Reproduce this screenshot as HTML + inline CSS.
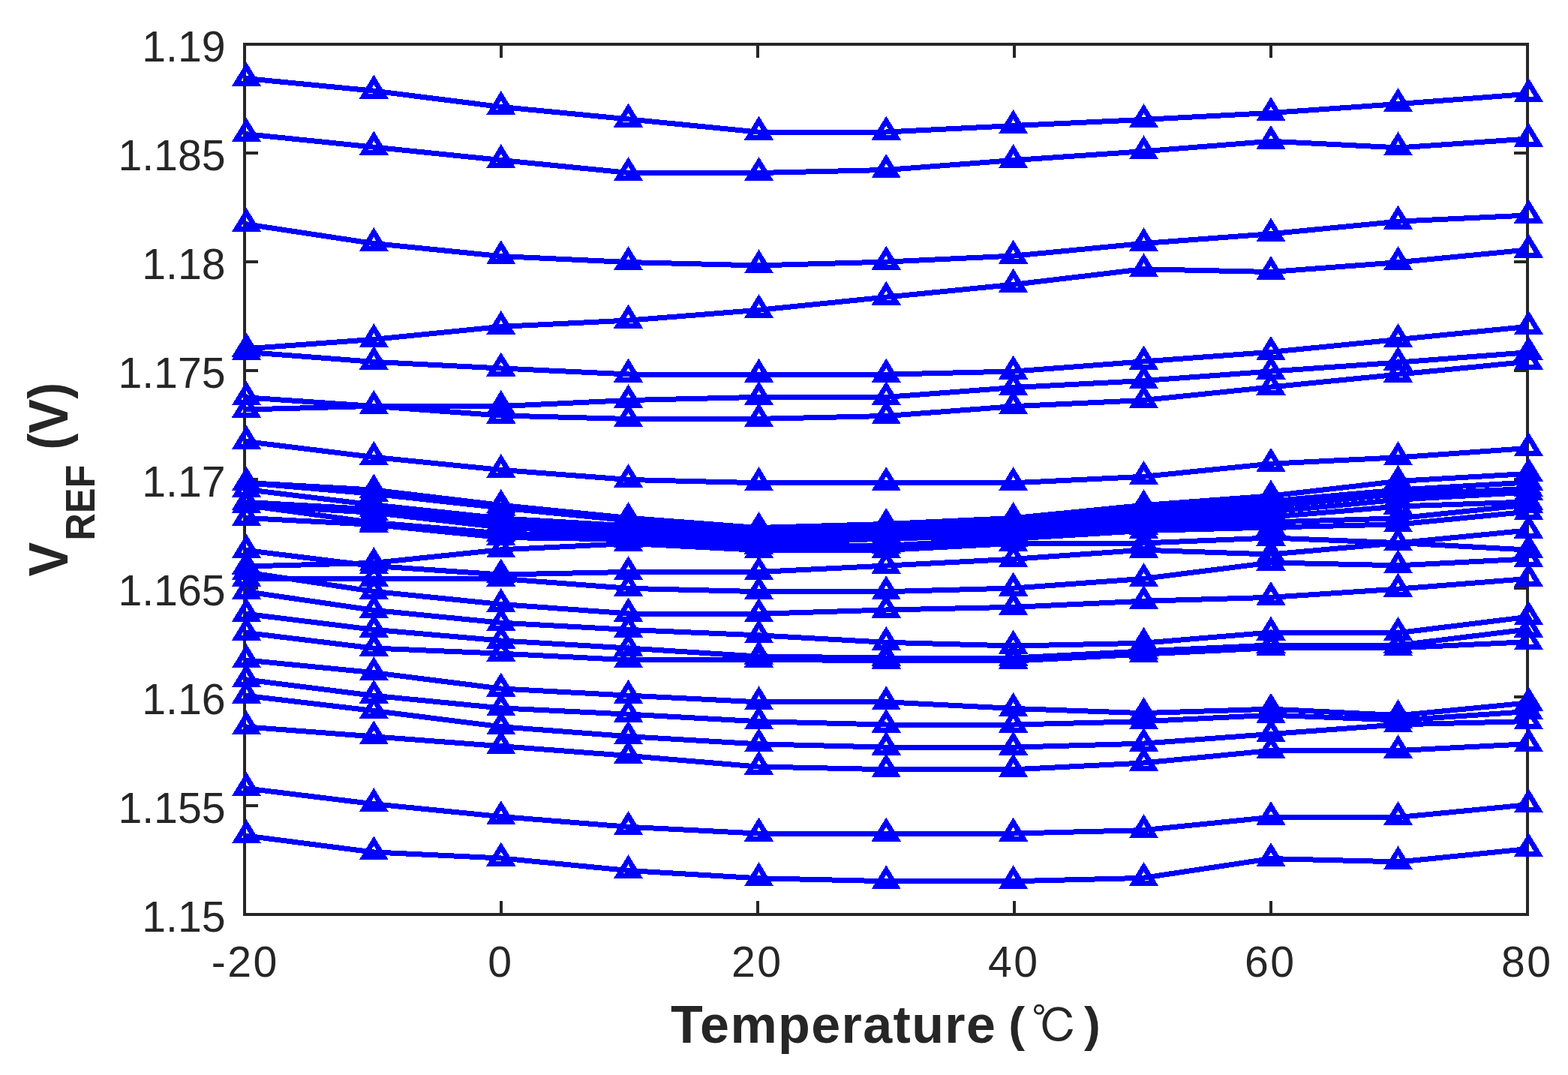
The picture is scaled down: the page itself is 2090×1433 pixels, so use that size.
<!DOCTYPE html>
<html lang="en"><head><meta charset="utf-8"><title>VREF vs Temperature</title>
<style>html,body{margin:0;padding:0;background:#fff}body{width:2090px;height:1433px;overflow:hidden}svg{display:block}text{font-family:"Liberation Sans","Noto Sans CJK SC",sans-serif;fill:#262626}.tk{font-size:57.2px}.lb{font-size:72px;font-weight:bold}.deg{font-family:"Liberation Sans","IPAGothic",sans-serif;font-weight:normal;font-size:62px}</style></head><body>
<svg width="2090" height="1433" viewBox="0 0 2090 1433">
<rect width="2090" height="1433" fill="#fff"/>
<g stroke="#262626" stroke-width="4" fill="none" shape-rendering="crispEdges">
<rect x="326" y="59" width="1710" height="1160"/>
<path d="M668 1219 v-18 M668 59 v18 M1010 1219 v-18 M1010 59 v18 M1352 1219 v-18 M1352 59 v18 M1694 1219 v-18 M1694 59 v18 M326 1074 h18 M2036 1074 h-18 M326 929 h18 M2036 929 h-18 M326 784 h18 M2036 784 h-18 M326 639 h18 M2036 639 h-18 M326 494 h18 M2036 494 h-18 M326 349 h18 M2036 349 h-18 M326 204 h18 M2036 204 h-18"/>
</g>
<g class="tk" text-anchor="middle" style="letter-spacing:2.5px">
<text x="326.8" y="1301.5">-20</text>
<text x="667.3" y="1301.5">0</text>
<text x="1009.3" y="1301.5">20</text>
<text x="1351.3" y="1301.5">40</text>
<text x="1693.3" y="1301.5">60</text>
<text x="2035.3" y="1301.5">80</text>
</g>
<g class="tk" text-anchor="end">
<text x="300.5" y="1242.3">1.15</text>
<text x="300.5" y="1097.3">1.155</text>
<text x="300.5" y="952.3">1.16</text>
<text x="300.5" y="807.3">1.165</text>
<text x="300.5" y="662.3">1.17</text>
<text x="300.5" y="517.3">1.175</text>
<text x="300.5" y="372.3">1.18</text>
<text x="300.5" y="227.3">1.185</text>
<text x="300.5" y="82.3">1.19</text>
</g>
<text class="lb" y="1389.8" style="font-size:70px"><tspan x="894.1" style="letter-spacing:1.4px">Temperature</tspan><tspan x="1326" y="1388.3" font-size="65.5"> (</tspan><tspan class="deg" x="1374.8" y="1389.8">℃</tspan><tspan x="1444.9" y="1388.3" font-size="65.5">)</tspan></text>
<text class="lb" transform="translate(89.7 768.4) scale(1.04 0.954) rotate(-90)">V<tspan dx="2" dy="34.8" font-size="53">REF</tspan><tspan dx="1.9" dy="-35.8" font-size="68.8"> (</tspan><tspan dy="1">V</tspan><tspan dy="-1" font-size="68.8">)</tspan></text>
<g fill="none" stroke="#00f" stroke-width="7" stroke-linejoin="round" shape-rendering="crispEdges">
<polyline points="326.0,104.4 497.0,121.0 668.0,142.5 839.0,159.0 1010.0,176.0 1181.0,176.0 1352.0,167.5 1523.0,159.5 1694.0,150.5 1865.0,138.5 2036.0,125.4"/>
<polyline points="326.0,178.5 497.0,196.0 668.0,213.5 839.0,230.5 1010.0,230.5 1181.0,226.5 1352.0,213.5 1523.0,201.8 1694.0,188.3 1865.0,196.9 2036.0,185.1"/>
<polyline points="326.0,298.5 497.0,324.4 668.0,341.6 839.0,349.6 1010.0,353.9 1181.0,349.1 1352.0,341.0 1523.0,324.6 1694.0,311.7 1865.0,295.1 2036.0,287.0"/>
<polyline points="326.0,465.0 497.0,452.5 668.0,435.4 839.0,427.0 1010.0,413.4 1181.0,396.1 1352.0,379.2 1523.0,358.8 1694.0,362.5 1865.0,349.6 2036.0,333.0"/>
<polyline points="326.0,469.2 497.0,482.3 668.0,491.0 839.0,499.0 1010.0,499.2 1181.0,499.2 1352.0,495.0 1523.0,482.0 1694.0,469.3 1865.0,452.4 2036.0,435.4"/>
<polyline points="326.0,529.7 497.0,541.4 668.0,541.5 839.0,533.5 1010.0,529.4 1181.0,529.4 1352.0,516.5 1523.0,507.6 1694.0,495.0 1865.0,483.0 2036.0,469.8"/>
<polyline points="326.0,546.0 497.0,541.4 668.0,554.0 839.0,558.5 1010.0,558.4 1181.0,554.5 1352.0,541.6 1523.0,533.6 1694.0,516.0 1865.0,499.0 2036.0,482.2"/>
<polyline points="326.0,588.3 497.0,609.3 668.0,626.4 839.0,639.5 1010.0,643.7 1181.0,643.7 1352.0,643.7 1523.0,635.4 1694.0,618.2 1865.0,609.7 2036.0,597.5"/>
<polyline points="326.0,643.4 497.0,653.0 668.0,673.4 839.0,690.5 1010.0,703.5 1181.0,698.5 1352.0,690.5 1523.0,673.6 1694.0,661.0 1865.0,641.3 2036.0,631.5"/>
<polyline points="326.0,643.4 497.0,658.2 668.0,677.0 839.0,694.0 1010.0,707.0 1181.0,703.0 1352.0,695.0 1523.0,679.0 1694.0,668.0 1865.0,653.0 2036.0,643.0"/>
<polyline points="326.0,652.3 497.0,672.9 668.0,691.0 839.0,701.0 1010.0,712.0 1181.0,708.0 1352.0,702.0 1523.0,686.0 1694.0,675.0 1865.0,658.6 2036.0,651.7"/>
<polyline points="326.0,669.3 497.0,678.9 668.0,697.0 839.0,707.0 1010.0,717.0 1181.0,712.0 1352.0,707.0 1523.0,692.0 1694.0,682.0 1865.0,666.0 2036.0,656.3"/>
<polyline points="326.0,673.3 497.0,683.3 668.0,703.0 839.0,712.0 1010.0,722.0 1181.0,715.0 1352.0,711.0 1523.0,697.0 1694.0,689.0 1865.0,675.0 2036.0,669.0"/>
<polyline points="326.0,673.3 497.0,696.5 668.0,711.0 839.0,716.0 1010.0,725.0 1181.0,718.0 1352.0,714.0 1523.0,702.0 1694.0,696.0 1865.0,690.8 2036.0,673.0"/>
<polyline points="326.0,690.4 497.0,699.3 668.0,716.5 839.0,719.0 1010.0,728.0 1181.0,727.3 1352.0,718.0 1523.0,707.5 1694.0,703.0 1865.0,698.9 2036.0,682.2"/>
<polyline points="326.0,755.0 497.0,750.5 668.0,732.8 839.0,724.5 1010.0,733.3 1181.0,733.3 1352.0,724.3 1523.0,724.0 1694.0,717.0 1865.0,723.7 2036.0,707.0"/>
<polyline points="326.0,733.3 497.0,754.4 668.0,766.0 839.0,762.4 1010.0,762.5 1181.0,754.1 1352.0,745.2 1523.0,733.2 1694.0,739.0 1865.0,723.7 2036.0,733.0"/>
<polyline points="326.0,771.2 497.0,771.2 668.0,771.4 839.0,784.4 1010.0,788.6 1181.0,788.7 1352.0,784.0 1523.0,771.5 1694.0,750.0 1865.0,753.8 2036.0,745.0"/>
<polyline points="326.0,762.5 497.0,788.3 668.0,805.5 839.0,818.0 1010.0,818.3 1181.0,813.0 1352.0,809.3 1523.0,801.3 1694.0,796.3 1865.0,785.0 2036.0,771.5"/>
<polyline points="326.0,788.3 497.0,813.3 668.0,830.2 839.0,839.5 1010.0,846.8 1181.0,856.3 1352.0,861.0 1523.0,857.3 1694.0,843.0 1865.0,843.5 2036.0,822.4"/>
<polyline points="326.0,818.1 497.0,839.2 668.0,854.0 839.0,864.1 1010.0,875.0 1181.0,877.0 1352.0,877.0 1523.0,868.0 1694.0,860.0 1865.0,860.0 2036.0,839.0"/>
<polyline points="326.0,843.2 497.0,864.0 668.0,871.2 839.0,879.8 1010.0,879.0 1181.0,881.0 1352.0,881.0 1523.0,872.1 1694.0,863.7 1865.0,863.7 2036.0,855.7"/>
<polyline points="326.0,879.8 497.0,896.5 668.0,918.0 839.0,927.2 1010.0,935.8 1181.0,935.8 1352.0,944.5 1523.0,950.6 1694.0,945.2 1865.0,953.6 2036.0,937.0"/>
<polyline points="326.0,905.7 497.0,927.2 668.0,943.9 839.0,952.2 1010.0,961.7 1181.0,966.0 1352.0,966.0 1523.0,961.7 1694.0,953.2 1865.0,960.0 2036.0,948.6"/>
<polyline points="326.0,927.2 497.0,947.3 668.0,968.8 839.0,981.8 1010.0,991.8 1181.0,996.1 1352.0,996.1 1523.0,991.2 1694.0,978.5 1865.0,965.8 2036.0,961.6"/>
<polyline points="326.0,968.8 497.0,981.8 668.0,994.7 839.0,1007.6 1010.0,1022.0 1181.0,1025.7 1352.0,1025.7 1523.0,1017.1 1694.0,1000.5 1865.0,1000.5 2036.0,991.7"/>
<polyline points="326.0,1050.7 497.0,1071.6 668.0,1088.6 839.0,1102.4 1010.0,1111.0 1181.0,1111.0 1352.0,1111.0 1523.0,1106.7 1694.0,1089.4 1865.0,1089.4 2036.0,1072.8"/>
<polyline points="326.0,1113.8 497.0,1135.9 668.0,1144.0 839.0,1160.6 1010.0,1170.7 1181.0,1174.7 1352.0,1174.7 1523.0,1170.4 1694.0,1144.6 1865.0,1148.9 2036.0,1131.6"/>
</g>
<g fill="#00f" fill-rule="evenodd" shape-rendering="crispEdges">
<path d="M328.5 82.9l19.6 32h-39.2zm0 13l7 12h-14zM498.3 99.5l19.6 32h-39.2zm0 13l7 12h-14zM667.8 121.0l19.6 32h-39.2zm0 13l7 12h-14zM837.5 137.5l19.6 32h-39.2zm0 13l7 12h-14zM1011.5 154.5l19.6 32h-39.2zm0 13l7 12h-14zM1181.2 154.5l19.6 32h-39.2zm0 13l7 12h-14zM1350.6 146.0l19.6 32h-39.2zm0 13l7 12h-14zM1524.5 138.0l19.6 32h-39.2zm0 13l7 12h-14zM1694.0 129.0l19.6 32h-39.2zm0 13l7 12h-14zM1863.5 117.0l19.6 32h-39.2zm0 13l7 12h-14zM2037.5 103.9l19.6 32h-39.2zm0 13l7 12h-14z"/>
<path d="M328.5 157.0l19.6 32h-39.2zm0 13l7 12h-14zM498.3 174.5l19.6 32h-39.2zm0 13l7 12h-14zM667.8 192.0l19.6 32h-39.2zm0 13l7 12h-14zM837.5 209.0l19.6 32h-39.2zm0 13l7 12h-14zM1011.5 209.0l19.6 32h-39.2zm0 13l7 12h-14zM1181.2 205.0l19.6 32h-39.2zm0 13l7 12h-14zM1350.6 192.0l19.6 32h-39.2zm0 13l7 12h-14zM1524.5 180.3l19.6 32h-39.2zm0 13l7 12h-14zM1694.0 166.8l19.6 32h-39.2zm0 13l7 12h-14zM1863.5 175.4l19.6 32h-39.2zm0 13l7 12h-14zM2037.5 163.6l19.6 32h-39.2zm0 13l7 12h-14z"/>
<path d="M328.5 277.0l19.6 32h-39.2zm0 13l7 12h-14zM498.3 302.9l19.6 32h-39.2zm0 13l7 12h-14zM667.8 320.1l19.6 32h-39.2zm0 13l7 12h-14zM837.5 328.1l19.6 32h-39.2zm0 13l7 12h-14zM1011.5 332.4l19.6 32h-39.2zm0 13l7 12h-14zM1181.2 327.6l19.6 32h-39.2zm0 13l7 12h-14zM1350.6 319.5l19.6 32h-39.2zm0 13l7 12h-14zM1524.5 303.1l19.6 32h-39.2zm0 13l7 12h-14zM1694.0 290.2l19.6 32h-39.2zm0 13l7 12h-14zM1863.5 273.6l19.6 32h-39.2zm0 13l7 12h-14zM2037.5 265.5l19.6 32h-39.2zm0 13l7 12h-14z"/>
<path d="M328.5 443.5l19.6 32h-39.2zm0 13l7 12h-14zM498.3 431.0l19.6 32h-39.2zm0 13l7 12h-14zM667.8 413.9l19.6 32h-39.2zm0 13l7 12h-14zM837.5 405.5l19.6 32h-39.2zm0 13l7 12h-14zM1011.5 391.9l19.6 32h-39.2zm0 13l7 12h-14zM1181.2 374.6l19.6 32h-39.2zm0 13l7 12h-14zM1350.6 357.7l19.6 32h-39.2zm0 13l7 12h-14zM1524.5 337.3l19.6 32h-39.2zm0 13l7 12h-14zM1694.0 341.0l19.6 32h-39.2zm0 13l7 12h-14zM1863.5 328.1l19.6 32h-39.2zm0 13l7 12h-14zM2037.5 311.5l19.6 32h-39.2zm0 13l7 12h-14z"/>
<path d="M328.5 447.7l19.6 32h-39.2zm0 13l7 12h-14zM498.3 460.8l19.6 32h-39.2zm0 13l7 12h-14zM667.8 469.5l19.6 32h-39.2zm0 13l7 12h-14zM837.5 477.5l19.6 32h-39.2zm0 13l7 12h-14zM1011.5 477.7l19.6 32h-39.2zm0 13l7 12h-14zM1181.2 477.7l19.6 32h-39.2zm0 13l7 12h-14zM1350.6 473.5l19.6 32h-39.2zm0 13l7 12h-14zM1524.5 460.5l19.6 32h-39.2zm0 13l7 12h-14zM1694.0 447.8l19.6 32h-39.2zm0 13l7 12h-14zM1863.5 430.9l19.6 32h-39.2zm0 13l7 12h-14zM2037.5 413.9l19.6 32h-39.2zm0 13l7 12h-14z"/>
<path d="M328.5 508.2l19.6 32h-39.2zm0 13l7 12h-14zM498.3 519.9l19.6 32h-39.2zm0 13l7 12h-14zM667.8 520.0l19.6 32h-39.2zm0 13l7 12h-14zM837.5 512.0l19.6 32h-39.2zm0 13l7 12h-14zM1011.5 507.9l19.6 32h-39.2zm0 13l7 12h-14zM1181.2 507.9l19.6 32h-39.2zm0 13l7 12h-14zM1350.6 495.0l19.6 32h-39.2zm0 13l7 12h-14zM1524.5 486.1l19.6 32h-39.2zm0 13l7 12h-14zM1694.0 473.5l19.6 32h-39.2zm0 13l7 12h-14zM1863.5 461.5l19.6 32h-39.2zm0 13l7 12h-14zM2037.5 448.3l19.6 32h-39.2zm0 13l7 12h-14z"/>
<path d="M328.5 524.5l19.6 32h-39.2zm0 13l7 12h-14zM498.3 519.9l19.6 32h-39.2zm0 13l7 12h-14zM667.8 532.5l19.6 32h-39.2zm0 13l7 12h-14zM837.5 537.0l19.6 32h-39.2zm0 13l7 12h-14zM1011.5 536.9l19.6 32h-39.2zm0 13l7 12h-14zM1181.2 533.0l19.6 32h-39.2zm0 13l7 12h-14zM1350.6 520.1l19.6 32h-39.2zm0 13l7 12h-14zM1524.5 512.1l19.6 32h-39.2zm0 13l7 12h-14zM1694.0 494.5l19.6 32h-39.2zm0 13l7 12h-14zM1863.5 477.5l19.6 32h-39.2zm0 13l7 12h-14zM2037.5 460.7l19.6 32h-39.2zm0 13l7 12h-14z"/>
<path d="M328.5 566.8l19.6 32h-39.2zm0 13l7 12h-14zM498.3 587.8l19.6 32h-39.2zm0 13l7 12h-14zM667.8 604.9l19.6 32h-39.2zm0 13l7 12h-14zM837.5 618.0l19.6 32h-39.2zm0 13l7 12h-14zM1011.5 622.2l19.6 32h-39.2zm0 13l7 12h-14zM1181.2 622.2l19.6 32h-39.2zm0 13l7 12h-14zM1350.6 622.2l19.6 32h-39.2zm0 13l7 12h-14zM1524.5 613.9l19.6 32h-39.2zm0 13l7 12h-14zM1694.0 596.7l19.6 32h-39.2zm0 13l7 12h-14zM1863.5 588.2l19.6 32h-39.2zm0 13l7 12h-14zM2037.5 576.0l19.6 32h-39.2zm0 13l7 12h-14z"/>
<path d="M328.5 621.9l19.6 32h-39.2zm0 13l7 12h-14zM498.3 631.5l19.6 32h-39.2zm0 13l7 12h-14zM667.8 651.9l19.6 32h-39.2zm0 13l7 12h-14zM837.5 669.0l19.6 32h-39.2zm0 13l7 12h-14zM1011.5 682.0l19.6 32h-39.2zm0 13l7 12h-14zM1181.2 677.0l19.6 32h-39.2zm0 13l7 12h-14zM1350.6 669.0l19.6 32h-39.2zm0 13l7 12h-14zM1524.5 652.1l19.6 32h-39.2zm0 13l7 12h-14zM1694.0 639.5l19.6 32h-39.2zm0 13l7 12h-14zM1863.5 619.8l19.6 32h-39.2zm0 13l7 12h-14zM2037.5 610.0l19.6 32h-39.2zm0 13l7 12h-14z"/>
<path d="M328.5 621.9l19.6 32h-39.2zm0 13l7 12h-14zM498.3 636.7l19.6 32h-39.2zm0 13l7 12h-14zM667.8 655.5l19.6 32h-39.2zm0 13l7 12h-14zM837.5 672.5l19.6 32h-39.2zm0 13l7 12h-14zM1011.5 685.5l19.6 32h-39.2zm0 13l7 12h-14zM1181.2 681.5l19.6 32h-39.2zm0 13l7 12h-14zM1350.6 673.5l19.6 32h-39.2zm0 13l7 12h-14zM1524.5 657.5l19.6 32h-39.2zm0 13l7 12h-14zM1694.0 646.5l19.6 32h-39.2zm0 13l7 12h-14zM1863.5 631.5l19.6 32h-39.2zm0 13l7 12h-14zM2037.5 621.5l19.6 32h-39.2zm0 13l7 12h-14z"/>
<path d="M328.5 630.8l19.6 32h-39.2zm0 13l7 12h-14zM498.3 651.4l19.6 32h-39.2zm0 13l7 12h-14zM667.8 669.5l19.6 32h-39.2zm0 13l7 12h-14zM837.5 679.5l19.6 32h-39.2zm0 13l7 12h-14zM1011.5 690.5l19.6 32h-39.2zm0 13l7 12h-14zM1181.2 686.5l19.6 32h-39.2zm0 13l7 12h-14zM1350.6 680.5l19.6 32h-39.2zm0 13l7 12h-14zM1524.5 664.5l19.6 32h-39.2zm0 13l7 12h-14zM1694.0 653.5l19.6 32h-39.2zm0 13l7 12h-14zM1863.5 637.1l19.6 32h-39.2zm0 13l7 12h-14zM2037.5 630.2l19.6 32h-39.2zm0 13l7 12h-14z"/>
<path d="M328.5 647.8l19.6 32h-39.2zm0 13l7 12h-14zM498.3 657.4l19.6 32h-39.2zm0 13l7 12h-14zM667.8 675.5l19.6 32h-39.2zm0 13l7 12h-14zM837.5 685.5l19.6 32h-39.2zm0 13l7 12h-14zM1011.5 695.5l19.6 32h-39.2zm0 13l7 12h-14zM1181.2 690.5l19.6 32h-39.2zm0 13l7 12h-14zM1350.6 685.5l19.6 32h-39.2zm0 13l7 12h-14zM1524.5 670.5l19.6 32h-39.2zm0 13l7 12h-14zM1694.0 660.5l19.6 32h-39.2zm0 13l7 12h-14zM1863.5 644.5l19.6 32h-39.2zm0 13l7 12h-14zM2037.5 634.8l19.6 32h-39.2zm0 13l7 12h-14z"/>
<path d="M328.5 651.8l19.6 32h-39.2zm0 13l7 12h-14zM498.3 661.8l19.6 32h-39.2zm0 13l7 12h-14zM667.8 681.5l19.6 32h-39.2zm0 13l7 12h-14zM837.5 690.5l19.6 32h-39.2zm0 13l7 12h-14zM1011.5 700.5l19.6 32h-39.2zm0 13l7 12h-14zM1181.2 693.5l19.6 32h-39.2zm0 13l7 12h-14zM1350.6 689.5l19.6 32h-39.2zm0 13l7 12h-14zM1524.5 675.5l19.6 32h-39.2zm0 13l7 12h-14zM1694.0 667.5l19.6 32h-39.2zm0 13l7 12h-14zM1863.5 653.5l19.6 32h-39.2zm0 13l7 12h-14zM2037.5 647.5l19.6 32h-39.2zm0 13l7 12h-14z"/>
<path d="M328.5 651.8l19.6 32h-39.2zm0 13l7 12h-14zM498.3 675.0l19.6 32h-39.2zm0 13l7 12h-14zM667.8 689.5l19.6 32h-39.2zm0 13l7 12h-14zM837.5 694.5l19.6 32h-39.2zm0 13l7 12h-14zM1011.5 703.5l19.6 32h-39.2zm0 13l7 12h-14zM1181.2 696.5l19.6 32h-39.2zm0 13l7 12h-14zM1350.6 692.5l19.6 32h-39.2zm0 13l7 12h-14zM1524.5 680.5l19.6 32h-39.2zm0 13l7 12h-14zM1694.0 674.5l19.6 32h-39.2zm0 13l7 12h-14zM1863.5 669.3l19.6 32h-39.2zm0 13l7 12h-14zM2037.5 651.5l19.6 32h-39.2zm0 13l7 12h-14z"/>
<path d="M328.5 668.9l19.6 32h-39.2zm0 13l7 12h-14zM498.3 677.8l19.6 32h-39.2zm0 13l7 12h-14zM667.8 695.0l19.6 32h-39.2zm0 13l7 12h-14zM837.5 697.5l19.6 32h-39.2zm0 13l7 12h-14zM1011.5 706.5l19.6 32h-39.2zm0 13l7 12h-14zM1181.2 705.8l19.6 32h-39.2zm0 13l7 12h-14zM1350.6 696.5l19.6 32h-39.2zm0 13l7 12h-14zM1524.5 686.0l19.6 32h-39.2zm0 13l7 12h-14zM1694.0 681.5l19.6 32h-39.2zm0 13l7 12h-14zM1863.5 677.4l19.6 32h-39.2zm0 13l7 12h-14zM2037.5 660.7l19.6 32h-39.2zm0 13l7 12h-14z"/>
<path d="M328.5 733.5l19.6 32h-39.2zm0 13l7 12h-14zM498.3 729.0l19.6 32h-39.2zm0 13l7 12h-14zM667.8 711.3l19.6 32h-39.2zm0 13l7 12h-14zM837.5 703.0l19.6 32h-39.2zm0 13l7 12h-14zM1011.5 711.8l19.6 32h-39.2zm0 13l7 12h-14zM1181.2 711.8l19.6 32h-39.2zm0 13l7 12h-14zM1350.6 702.8l19.6 32h-39.2zm0 13l7 12h-14zM1524.5 702.5l19.6 32h-39.2zm0 13l7 12h-14zM1694.0 695.5l19.6 32h-39.2zm0 13l7 12h-14zM1863.5 702.2l19.6 32h-39.2zm0 13l7 12h-14zM2037.5 685.5l19.6 32h-39.2zm0 13l7 12h-14z"/>
<path d="M328.5 711.8l19.6 32h-39.2zm0 13l7 12h-14zM498.3 732.9l19.6 32h-39.2zm0 13l7 12h-14zM667.8 744.5l19.6 32h-39.2zm0 13l7 12h-14zM837.5 740.9l19.6 32h-39.2zm0 13l7 12h-14zM1011.5 741.0l19.6 32h-39.2zm0 13l7 12h-14zM1181.2 732.6l19.6 32h-39.2zm0 13l7 12h-14zM1350.6 723.7l19.6 32h-39.2zm0 13l7 12h-14zM1524.5 711.7l19.6 32h-39.2zm0 13l7 12h-14zM1694.0 717.5l19.6 32h-39.2zm0 13l7 12h-14zM1863.5 702.2l19.6 32h-39.2zm0 13l7 12h-14zM2037.5 711.5l19.6 32h-39.2zm0 13l7 12h-14z"/>
<path d="M328.5 749.7l19.6 32h-39.2zm0 13l7 12h-14zM498.3 749.7l19.6 32h-39.2zm0 13l7 12h-14zM667.8 749.9l19.6 32h-39.2zm0 13l7 12h-14zM837.5 762.9l19.6 32h-39.2zm0 13l7 12h-14zM1011.5 767.1l19.6 32h-39.2zm0 13l7 12h-14zM1181.2 767.2l19.6 32h-39.2zm0 13l7 12h-14zM1350.6 762.5l19.6 32h-39.2zm0 13l7 12h-14zM1524.5 750.0l19.6 32h-39.2zm0 13l7 12h-14zM1694.0 728.5l19.6 32h-39.2zm0 13l7 12h-14zM1863.5 732.3l19.6 32h-39.2zm0 13l7 12h-14zM2037.5 723.5l19.6 32h-39.2zm0 13l7 12h-14z"/>
<path d="M328.5 741.0l19.6 32h-39.2zm0 13l7 12h-14zM498.3 766.8l19.6 32h-39.2zm0 13l7 12h-14zM667.8 784.0l19.6 32h-39.2zm0 13l7 12h-14zM837.5 796.5l19.6 32h-39.2zm0 13l7 12h-14zM1011.5 796.8l19.6 32h-39.2zm0 13l7 12h-14zM1181.2 791.5l19.6 32h-39.2zm0 13l7 12h-14zM1350.6 787.8l19.6 32h-39.2zm0 13l7 12h-14zM1524.5 779.8l19.6 32h-39.2zm0 13l7 12h-14zM1694.0 774.8l19.6 32h-39.2zm0 13l7 12h-14zM1863.5 763.5l19.6 32h-39.2zm0 13l7 12h-14zM2037.5 750.0l19.6 32h-39.2zm0 13l7 12h-14z"/>
<path d="M328.5 766.8l19.6 32h-39.2zm0 13l7 12h-14zM498.3 791.8l19.6 32h-39.2zm0 13l7 12h-14zM667.8 808.7l19.6 32h-39.2zm0 13l7 12h-14zM837.5 818.0l19.6 32h-39.2zm0 13l7 12h-14zM1011.5 825.3l19.6 32h-39.2zm0 13l7 12h-14zM1181.2 834.8l19.6 32h-39.2zm0 13l7 12h-14zM1350.6 839.5l19.6 32h-39.2zm0 13l7 12h-14zM1524.5 835.8l19.6 32h-39.2zm0 13l7 12h-14zM1694.0 821.5l19.6 32h-39.2zm0 13l7 12h-14zM1863.5 822.0l19.6 32h-39.2zm0 13l7 12h-14zM2037.5 800.9l19.6 32h-39.2zm0 13l7 12h-14z"/>
<path d="M328.5 796.6l19.6 32h-39.2zm0 13l7 12h-14zM498.3 817.7l19.6 32h-39.2zm0 13l7 12h-14zM667.8 832.5l19.6 32h-39.2zm0 13l7 12h-14zM837.5 842.6l19.6 32h-39.2zm0 13l7 12h-14zM1011.5 853.5l19.6 32h-39.2zm0 13l7 12h-14zM1181.2 855.5l19.6 32h-39.2zm0 13l7 12h-14zM1350.6 855.5l19.6 32h-39.2zm0 13l7 12h-14zM1524.5 846.5l19.6 32h-39.2zm0 13l7 12h-14zM1694.0 838.5l19.6 32h-39.2zm0 13l7 12h-14zM1863.5 838.5l19.6 32h-39.2zm0 13l7 12h-14zM2037.5 817.5l19.6 32h-39.2zm0 13l7 12h-14z"/>
<path d="M328.5 821.7l19.6 32h-39.2zm0 13l7 12h-14zM498.3 842.5l19.6 32h-39.2zm0 13l7 12h-14zM667.8 849.7l19.6 32h-39.2zm0 13l7 12h-14zM837.5 858.3l19.6 32h-39.2zm0 13l7 12h-14zM1011.5 857.5l19.6 32h-39.2zm0 13l7 12h-14zM1181.2 859.5l19.6 32h-39.2zm0 13l7 12h-14zM1350.6 859.5l19.6 32h-39.2zm0 13l7 12h-14zM1524.5 850.6l19.6 32h-39.2zm0 13l7 12h-14zM1694.0 842.2l19.6 32h-39.2zm0 13l7 12h-14zM1863.5 842.2l19.6 32h-39.2zm0 13l7 12h-14zM2037.5 834.2l19.6 32h-39.2zm0 13l7 12h-14z"/>
<path d="M328.5 858.3l19.6 32h-39.2zm0 13l7 12h-14zM498.3 875.0l19.6 32h-39.2zm0 13l7 12h-14zM667.8 896.5l19.6 32h-39.2zm0 13l7 12h-14zM837.5 905.7l19.6 32h-39.2zm0 13l7 12h-14zM1011.5 914.3l19.6 32h-39.2zm0 13l7 12h-14zM1181.2 914.3l19.6 32h-39.2zm0 13l7 12h-14zM1350.6 923.0l19.6 32h-39.2zm0 13l7 12h-14zM1524.5 929.1l19.6 32h-39.2zm0 13l7 12h-14zM1694.0 923.7l19.6 32h-39.2zm0 13l7 12h-14zM1863.5 932.1l19.6 32h-39.2zm0 13l7 12h-14zM2037.5 915.5l19.6 32h-39.2zm0 13l7 12h-14z"/>
<path d="M328.5 884.2l19.6 32h-39.2zm0 13l7 12h-14zM498.3 905.7l19.6 32h-39.2zm0 13l7 12h-14zM667.8 922.4l19.6 32h-39.2zm0 13l7 12h-14zM837.5 930.7l19.6 32h-39.2zm0 13l7 12h-14zM1011.5 940.2l19.6 32h-39.2zm0 13l7 12h-14zM1181.2 944.5l19.6 32h-39.2zm0 13l7 12h-14zM1350.6 944.5l19.6 32h-39.2zm0 13l7 12h-14zM1524.5 940.2l19.6 32h-39.2zm0 13l7 12h-14zM1694.0 931.7l19.6 32h-39.2zm0 13l7 12h-14zM1863.5 938.5l19.6 32h-39.2zm0 13l7 12h-14zM2037.5 927.1l19.6 32h-39.2zm0 13l7 12h-14z"/>
<path d="M328.5 905.7l19.6 32h-39.2zm0 13l7 12h-14zM498.3 925.8l19.6 32h-39.2zm0 13l7 12h-14zM667.8 947.3l19.6 32h-39.2zm0 13l7 12h-14zM837.5 960.3l19.6 32h-39.2zm0 13l7 12h-14zM1011.5 970.3l19.6 32h-39.2zm0 13l7 12h-14zM1181.2 974.6l19.6 32h-39.2zm0 13l7 12h-14zM1350.6 974.6l19.6 32h-39.2zm0 13l7 12h-14zM1524.5 969.7l19.6 32h-39.2zm0 13l7 12h-14zM1694.0 957.0l19.6 32h-39.2zm0 13l7 12h-14zM1863.5 944.3l19.6 32h-39.2zm0 13l7 12h-14zM2037.5 940.1l19.6 32h-39.2zm0 13l7 12h-14z"/>
<path d="M328.5 947.3l19.6 32h-39.2zm0 13l7 12h-14zM498.3 960.3l19.6 32h-39.2zm0 13l7 12h-14zM667.8 973.2l19.6 32h-39.2zm0 13l7 12h-14zM837.5 986.1l19.6 32h-39.2zm0 13l7 12h-14zM1011.5 1000.5l19.6 32h-39.2zm0 13l7 12h-14zM1181.2 1004.2l19.6 32h-39.2zm0 13l7 12h-14zM1350.6 1004.2l19.6 32h-39.2zm0 13l7 12h-14zM1524.5 995.6l19.6 32h-39.2zm0 13l7 12h-14zM1694.0 979.0l19.6 32h-39.2zm0 13l7 12h-14zM1863.5 979.0l19.6 32h-39.2zm0 13l7 12h-14zM2037.5 970.2l19.6 32h-39.2zm0 13l7 12h-14z"/>
<path d="M328.5 1029.2l19.6 32h-39.2zm0 13l7 12h-14zM498.3 1050.1l19.6 32h-39.2zm0 13l7 12h-14zM667.8 1067.1l19.6 32h-39.2zm0 13l7 12h-14zM837.5 1080.9l19.6 32h-39.2zm0 13l7 12h-14zM1011.5 1089.5l19.6 32h-39.2zm0 13l7 12h-14zM1181.2 1089.5l19.6 32h-39.2zm0 13l7 12h-14zM1350.6 1089.5l19.6 32h-39.2zm0 13l7 12h-14zM1524.5 1085.2l19.6 32h-39.2zm0 13l7 12h-14zM1694.0 1067.9l19.6 32h-39.2zm0 13l7 12h-14zM1863.5 1067.9l19.6 32h-39.2zm0 13l7 12h-14zM2037.5 1051.3l19.6 32h-39.2zm0 13l7 12h-14z"/>
<path d="M328.5 1092.3l19.6 32h-39.2zm0 13l7 12h-14zM498.3 1114.4l19.6 32h-39.2zm0 13l7 12h-14zM667.8 1122.5l19.6 32h-39.2zm0 13l7 12h-14zM837.5 1139.1l19.6 32h-39.2zm0 13l7 12h-14zM1011.5 1149.2l19.6 32h-39.2zm0 13l7 12h-14zM1181.2 1153.2l19.6 32h-39.2zm0 13l7 12h-14zM1350.6 1153.2l19.6 32h-39.2zm0 13l7 12h-14zM1524.5 1148.9l19.6 32h-39.2zm0 13l7 12h-14zM1694.0 1123.1l19.6 32h-39.2zm0 13l7 12h-14zM1863.5 1127.4l19.6 32h-39.2zm0 13l7 12h-14zM2037.5 1110.1l19.6 32h-39.2zm0 13l7 12h-14z"/>
</g>
</svg></body></html>
